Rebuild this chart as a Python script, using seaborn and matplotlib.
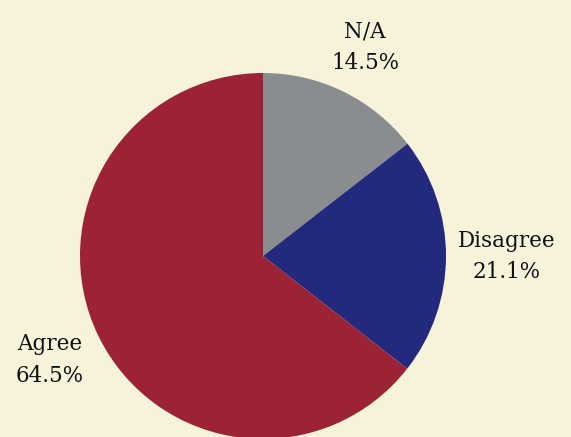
import matplotlib
matplotlib.use("Agg")
import matplotlib.pyplot as plt
import numpy as np
import seaborn as sns

# %% data
labels = ["N/A", "Disagree", "Agree"]
shares = [14.5, 21.1, 64.5]
colors = ["#8a8d8f", "#232a7e", "#9b2335"]
bg = "#f7f2da"

# %% style
sns.set_style("white", {"axes.facecolor": bg, "figure.facecolor": bg})
plt.rcParams["font.family"] = ["DejaVu Serif"]

fig = plt.figure(figsize=(5.71, 4.37), dpi=100)
# pie centre at (263, 256) px, radius ~183 px
r = 183
ax = fig.add_axes([(263 - r) / 571, (437 - 256 - r) / 437, 2 * r / 571, 2 * r / 437])

texts_in = [f"{l}\n{s}%" for l, s in zip(labels, shares)]
wedges, texts = ax.pie(
    shares,
    colors=colors,
    labels=texts_in,
    startangle=90,
    counterclock=False,
    labeldistance=1.28,
    wedgeprops={"linewidth": 0},
    textprops={"fontsize": 15.5, "color": "#111111"},
)

# label distance per slice, tuned to the reference
label_dist = [1.27, 1.33, 1.295]
for w, t, d in zip(wedges, texts, label_dist):
    ang = np.deg2rad((w.theta1 + w.theta2) / 2)
    t.set_position((d * np.cos(ang), d * np.sin(ang)))
    t.set_horizontalalignment("center")
    t.set_verticalalignment("center")
    t.set_linespacing(1.55)
    t.set_clip_on(False)

ax.set_xlim(-1, 1)
ax.set_ylim(-1, 1)
ax.set_aspect("equal")
ax.axis("off")

fig.savefig("out.png", dpi=100, facecolor=bg)
